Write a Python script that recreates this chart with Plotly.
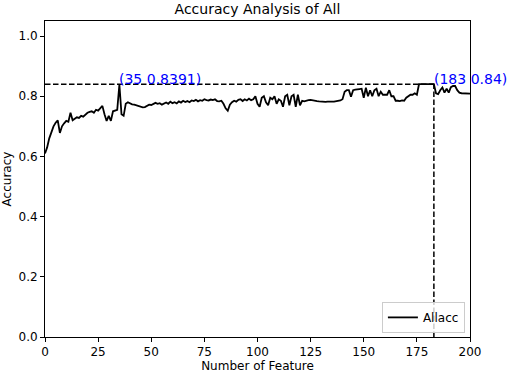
import plotly.graph_objects as go

# ---- data ----
feature_counts = list(range(0, 201))
allacc = [
    0.610, 0.630, 0.660, 0.680, 0.700, 0.712, 0.720, 0.678, 0.700, 0.710,
    0.718, 0.715, 0.745, 0.720, 0.725, 0.730, 0.728, 0.735, 0.732, 0.740,
    0.745, 0.748, 0.750, 0.745, 0.755, 0.752, 0.760, 0.768, 0.740, 0.718,
    0.735, 0.718, 0.750, 0.752, 0.755, 0.8391, 0.740, 0.735, 0.775, 0.780,
    0.776, 0.773, 0.772, 0.770, 0.768, 0.765, 0.763, 0.764, 0.768, 0.772,
    0.771, 0.776, 0.778, 0.775, 0.777, 0.772, 0.776, 0.779, 0.775, 0.782,
    0.777, 0.780, 0.776, 0.783, 0.779, 0.785, 0.781, 0.784, 0.780, 0.786,
    0.784, 0.788, 0.783, 0.787, 0.785, 0.790, 0.787, 0.786, 0.789, 0.787,
    0.790, 0.784, 0.783, 0.785, 0.775, 0.760, 0.752, 0.772, 0.780, 0.785,
    0.782, 0.788, 0.790, 0.784, 0.790, 0.786, 0.792, 0.787, 0.790, 0.800,
    0.775, 0.765, 0.795, 0.800, 0.780, 0.770, 0.795, 0.790, 0.800, 0.775,
    0.790, 0.785, 0.765, 0.800, 0.805, 0.770, 0.800, 0.805, 0.765, 0.805,
    0.770, 0.785, 0.783, 0.786, 0.787, 0.788, 0.786, 0.785, 0.784, 0.783,
    0.782, 0.782, 0.781, 0.782, 0.783, 0.782, 0.782, 0.783, 0.784, 0.786,
    0.790, 0.815, 0.820, 0.820, 0.798, 0.820, 0.822, 0.822, 0.824, 0.825,
    0.795, 0.828, 0.800, 0.820, 0.800, 0.820, 0.825, 0.800, 0.815, 0.805,
    0.805, 0.805, 0.820, 0.800, 0.800, 0.785, 0.785, 0.784, 0.786, 0.785,
    0.795, 0.800, 0.805, 0.805, 0.810, 0.805, 0.840, 0.840, 0.840, 0.840,
    0.840, 0.840, 0.840, 0.840, 0.810, 0.807, 0.820, 0.829, 0.812, 0.825,
    0.812, 0.830, 0.834, 0.834, 0.820, 0.812, 0.810, 0.810, 0.809, 0.809,
    0.809,
]
ann_x = [35, 183]
ann_y = [0.8391, 0.84]
ann_labels = ["(35 0.8391)", "(183 0.84)"]
x_ticks = [0, 25, 50, 75, 100, 125, 150, 175, 200]
y_ticks = [0.0, 0.2, 0.4, 0.6, 0.8, 1.0]

FONT = "DejaVu Sans"

fig = go.Figure()
fig.add_trace(go.Scatter(
    x=feature_counts, y=allacc, mode="lines", name="Allacc",
    line=dict(color="black", width=1.8),
))

# dashed guide lines at best point
best_x, best_y = ann_x[1], ann_y[1]
fig.add_trace(go.Scatter(
    x=[0, best_x], y=[best_y, best_y], mode="lines", showlegend=False,
    line=dict(color="black", width=1.5, dash="5.5px,2.5px"), hoverinfo="skip",
))
fig.add_trace(go.Scatter(
    x=[best_x, best_x], y=[0, best_y], mode="lines", showlegend=False,
    line=dict(color="black", width=1.5, dash="5.5px,2.5px"), hoverinfo="skip",
))

for ax_, ay_, lab in zip(ann_x, ann_y, ann_labels):
    fig.add_annotation(
        x=ax_, y=ay_, text=lab, showarrow=False,
        xanchor="left", yanchor="bottom", xshift=-2, yshift=-5,
        font=dict(family=FONT, size=14, color="blue"),
    )

axis_common = dict(
    showgrid=False, zeroline=False, showline=True, linecolor="black",
    linewidth=1, mirror=True, ticks="outside", ticklen=4, tickcolor="black",
    automargin=False,
    tickfont=dict(family=FONT, size=12, color="black"),
)

fig.update_layout(
    width=510, height=373,
    margin=dict(l=45, r=40, t=21, b=36),
    paper_bgcolor="white", plot_bgcolor="white",
    title=dict(text="Accuracy Analysis of All", x=0.5, xref="paper",
               y=0.99, yanchor="top", automargin=False,
               font=dict(family=FONT, size=14, color="black")),
    xaxis=dict(range=[0, 200], tickvals=x_ticks,
               title=dict(text="Number of Feature", standoff=2,
                          font=dict(family=FONT, size=12, color="black")),
               **axis_common),
    yaxis=dict(range=[0, 1.05], tickvals=y_ticks, tickformat=".1f",
               title=dict(text="Accuracy", standoff=4,
                          font=dict(family=FONT, size=12, color="black")),
               **axis_common),
    legend=dict(x=0.988, y=0.013, xanchor="right", yanchor="bottom",
                bgcolor="rgba(255,255,255,0.8)", bordercolor="#cccccc",
                borderwidth=1, font=dict(family=FONT, size=12, color="black")),
    showlegend=True,
)

fig.write_html("out.html", config={"displayModeBar": False},
               post_script="document.body.style.margin='0';document.body.style.overflow='hidden';")
